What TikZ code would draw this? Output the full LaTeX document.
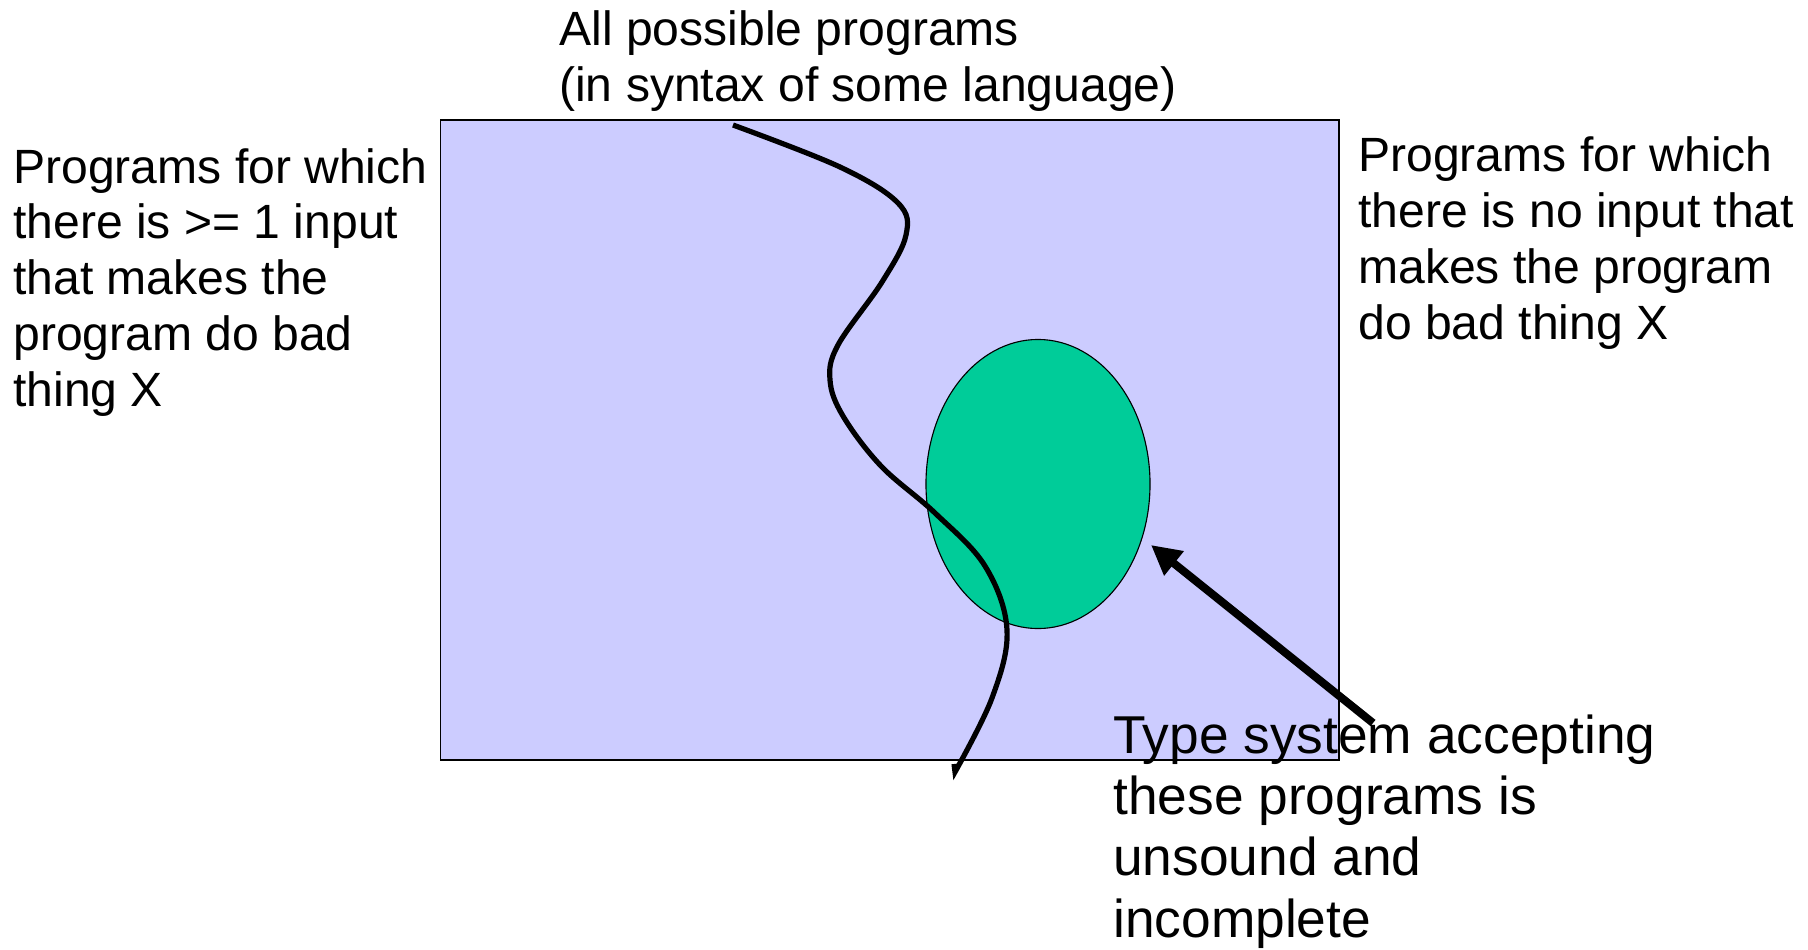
\documentclass[tikz,border=0pt]{standalone}
\usepackage{fontspec}
\setmainfont{Liberation Sans}
\usetikzlibrary{arrows.meta,shapes.geometric}

\definecolor{progblue}{RGB}{204,204,255}
\definecolor{typegreen}{RGB}{0,204,153}

\begin{document}
\begin{tikzpicture}[x=0.025cm,y=-0.025cm,
        txt/.style={anchor=base west,align=left,inner sep=0pt,font=\fontsize{34.2}{39.6}\selectfont},
        bigtxt/.style={txt,font=\fontsize{37.9}{43.4}\selectfont}]
        % Background
        \useasboundingbox (0,0) rectangle (1808,949);
        \draw[line width=1pt,fill=progblue] (440.5,120) rectangle (1338.8,760);

        % Accepted set
        \node[draw,ellipse,line width=0.8pt,fill=typegreen,inner sep=0pt,
              minimum width=5.6cm,minimum height=7.225cm] (typesys) at (1038,484) {};

        % Dividing line
        \draw[line width=3.7pt] plot[smooth,tension=0.6] coordinates {
            (733,125) (840,167) (898,203) (906,235) (882,282) (838,345)
            (830,380) (843,416) (881,466) (935,513) (985,566) (1007,630) (992,698) (955,772)}
            -- (954,764);

        % Labels (base = last line)
        \node[txt] (allprogs) at (559,101.5) {All possible programs\\(in syntax of some language)};
        \node[txt] (badprogs) at (13,406) {Programs for which\\there is >= 1 input\\that makes the\\program do bad\\thing X};
        \node[txt] (goodprogs) at (1358,339) {Programs for which\\there is no input that\\makes the program\\do bad thing X};

        % Pointer
        \coordinate (tail) at (1373,723);
        \coordinate (tip) at (1151,545);
        \draw[line width=5.7pt,-{Triangle[length=21pt,width=21pt]}] (tail) -- (tip);
        \node[bigtxt] (verdict) at (1113,937) {Type system accepting\\these programs is\\unsound and\\incomplete};
\end{tikzpicture}
\end{document}
